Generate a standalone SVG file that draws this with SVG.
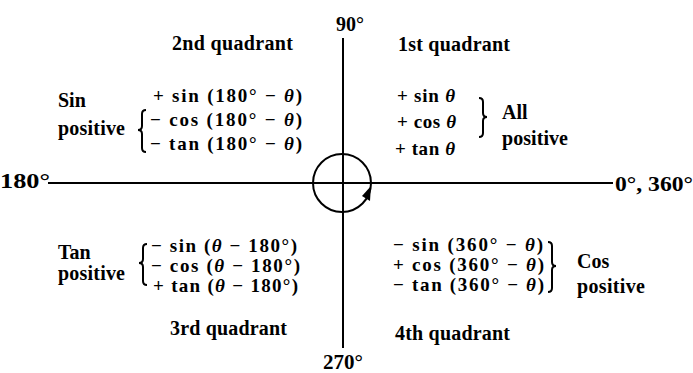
<svg xmlns="http://www.w3.org/2000/svg" width="693" height="373" viewBox="0 0 693 373">
<style>
text{font-family:"Liberation Serif","DejaVu Serif","Times New Roman",serif;font-weight:bold;font-size:20px;fill:#000}
.f{font-size:19px}
.i{font-style:italic}
.ax{stroke:#000;stroke-width:2;fill:none}
.br{stroke:#000;stroke-width:2;fill:none}
</style>
<rect width="693" height="373" fill="#fff"/>
<g id="axes">
<line class="ax" x1="343" y1="38" x2="343" y2="348"/>
<line class="ax" x1="48" y1="183" x2="613" y2="183"/>
<circle class="ax" cx="342" cy="183" r="29" stroke-width="2.5"/>
<polygon points="371,186 362,196 370,201" fill="#000"/>
</g>
<g id="axis-labels">
<text x="336" y="31">90°</text>
<text x="0" y="188" textLength="50" lengthAdjust="spacingAndGlyphs">180°</text>
<text x="615" y="191" textLength="78" lengthAdjust="spacingAndGlyphs">0°, 360°</text>
<text x="323" y="369" textLength="40" lengthAdjust="spacingAndGlyphs">270°</text>
</g>
<g id="q1">
<text x="398" y="51" textLength="112">1st quadrant</text>
<text class="f" x="397" y="102" textLength="58">+ sin <tspan class="i">θ</tspan></text>
<text class="f" x="397" y="128" textLength="59">+ cos <tspan class="i">θ</tspan></text>
<text class="f" x="395" y="155" textLength="60">+ tan <tspan class="i">θ</tspan></text>
<path class="br" d="M479,98 Q483,98 483,102 L483,113 Q483,117 487,117 Q483,117 483,121 L483,133 Q483,137 479,137"/>
<text x="502" y="119">All</text>
<text x="502" y="145" textLength="66">positive</text>
</g>
<g id="q2">
<text x="172" y="50" textLength="121">2nd quadrant</text>
<text x="58" y="107">Sin</text>
<text x="58" y="135" textLength="67">positive</text>
<path class="br" d="M146,110 Q142,110 142,114 L142,126 Q142,130 138,130 Q142,130 142,134 L142,148 Q142,152 146,152"/>
<text class="f" x="153" y="102" textLength="149">+ sin (180° − <tspan class="i">θ</tspan>)</text>
<text class="f" x="150" y="126" textLength="152">− cos (180° − <tspan class="i">θ</tspan>)</text>
<text class="f" x="150" y="150" textLength="152">− tan (180° − <tspan class="i">θ</tspan>)</text>
</g>
<g id="q3">
<text x="58" y="259">Tan</text>
<text x="58" y="280" textLength="67">positive</text>
<path class="br" d="M147,244 Q143,244 143,248 L143,259 Q143,263 139,263 Q143,263 143,267 L143,281 Q143,285 147,285"/>
<text class="f" x="151" y="252" textLength="146">− sin (<tspan class="i">θ</tspan> − 180°)</text>
<text class="f" x="151" y="272" textLength="149">− cos (<tspan class="i">θ</tspan> − 180°)</text>
<text class="f" x="153" y="292" textLength="145">+ tan (<tspan class="i">θ</tspan> − 180°)</text>
<text x="170" y="335" textLength="117">3rd quadrant</text>
</g>
<g id="q4">
<text class="f" x="393" y="251" textLength="150">− sin (360° − <tspan class="i">θ</tspan>)</text>
<text class="f" x="393" y="271" textLength="151">+ cos (360° − <tspan class="i">θ</tspan>)</text>
<text class="f" x="393" y="291" textLength="151">− tan (360° − <tspan class="i">θ</tspan>)</text>
<path class="br" d="M548,242 Q552,242 552,246 L552,262 Q552,266 556,266 Q552,266 552,270 L552,288 Q552,292 548,292"/>
<text x="577" y="268">Cos</text>
<text x="577" y="293" textLength="68">positive</text>
<text x="395" y="340" textLength="115">4th quadrant</text>
</g>
</svg>
